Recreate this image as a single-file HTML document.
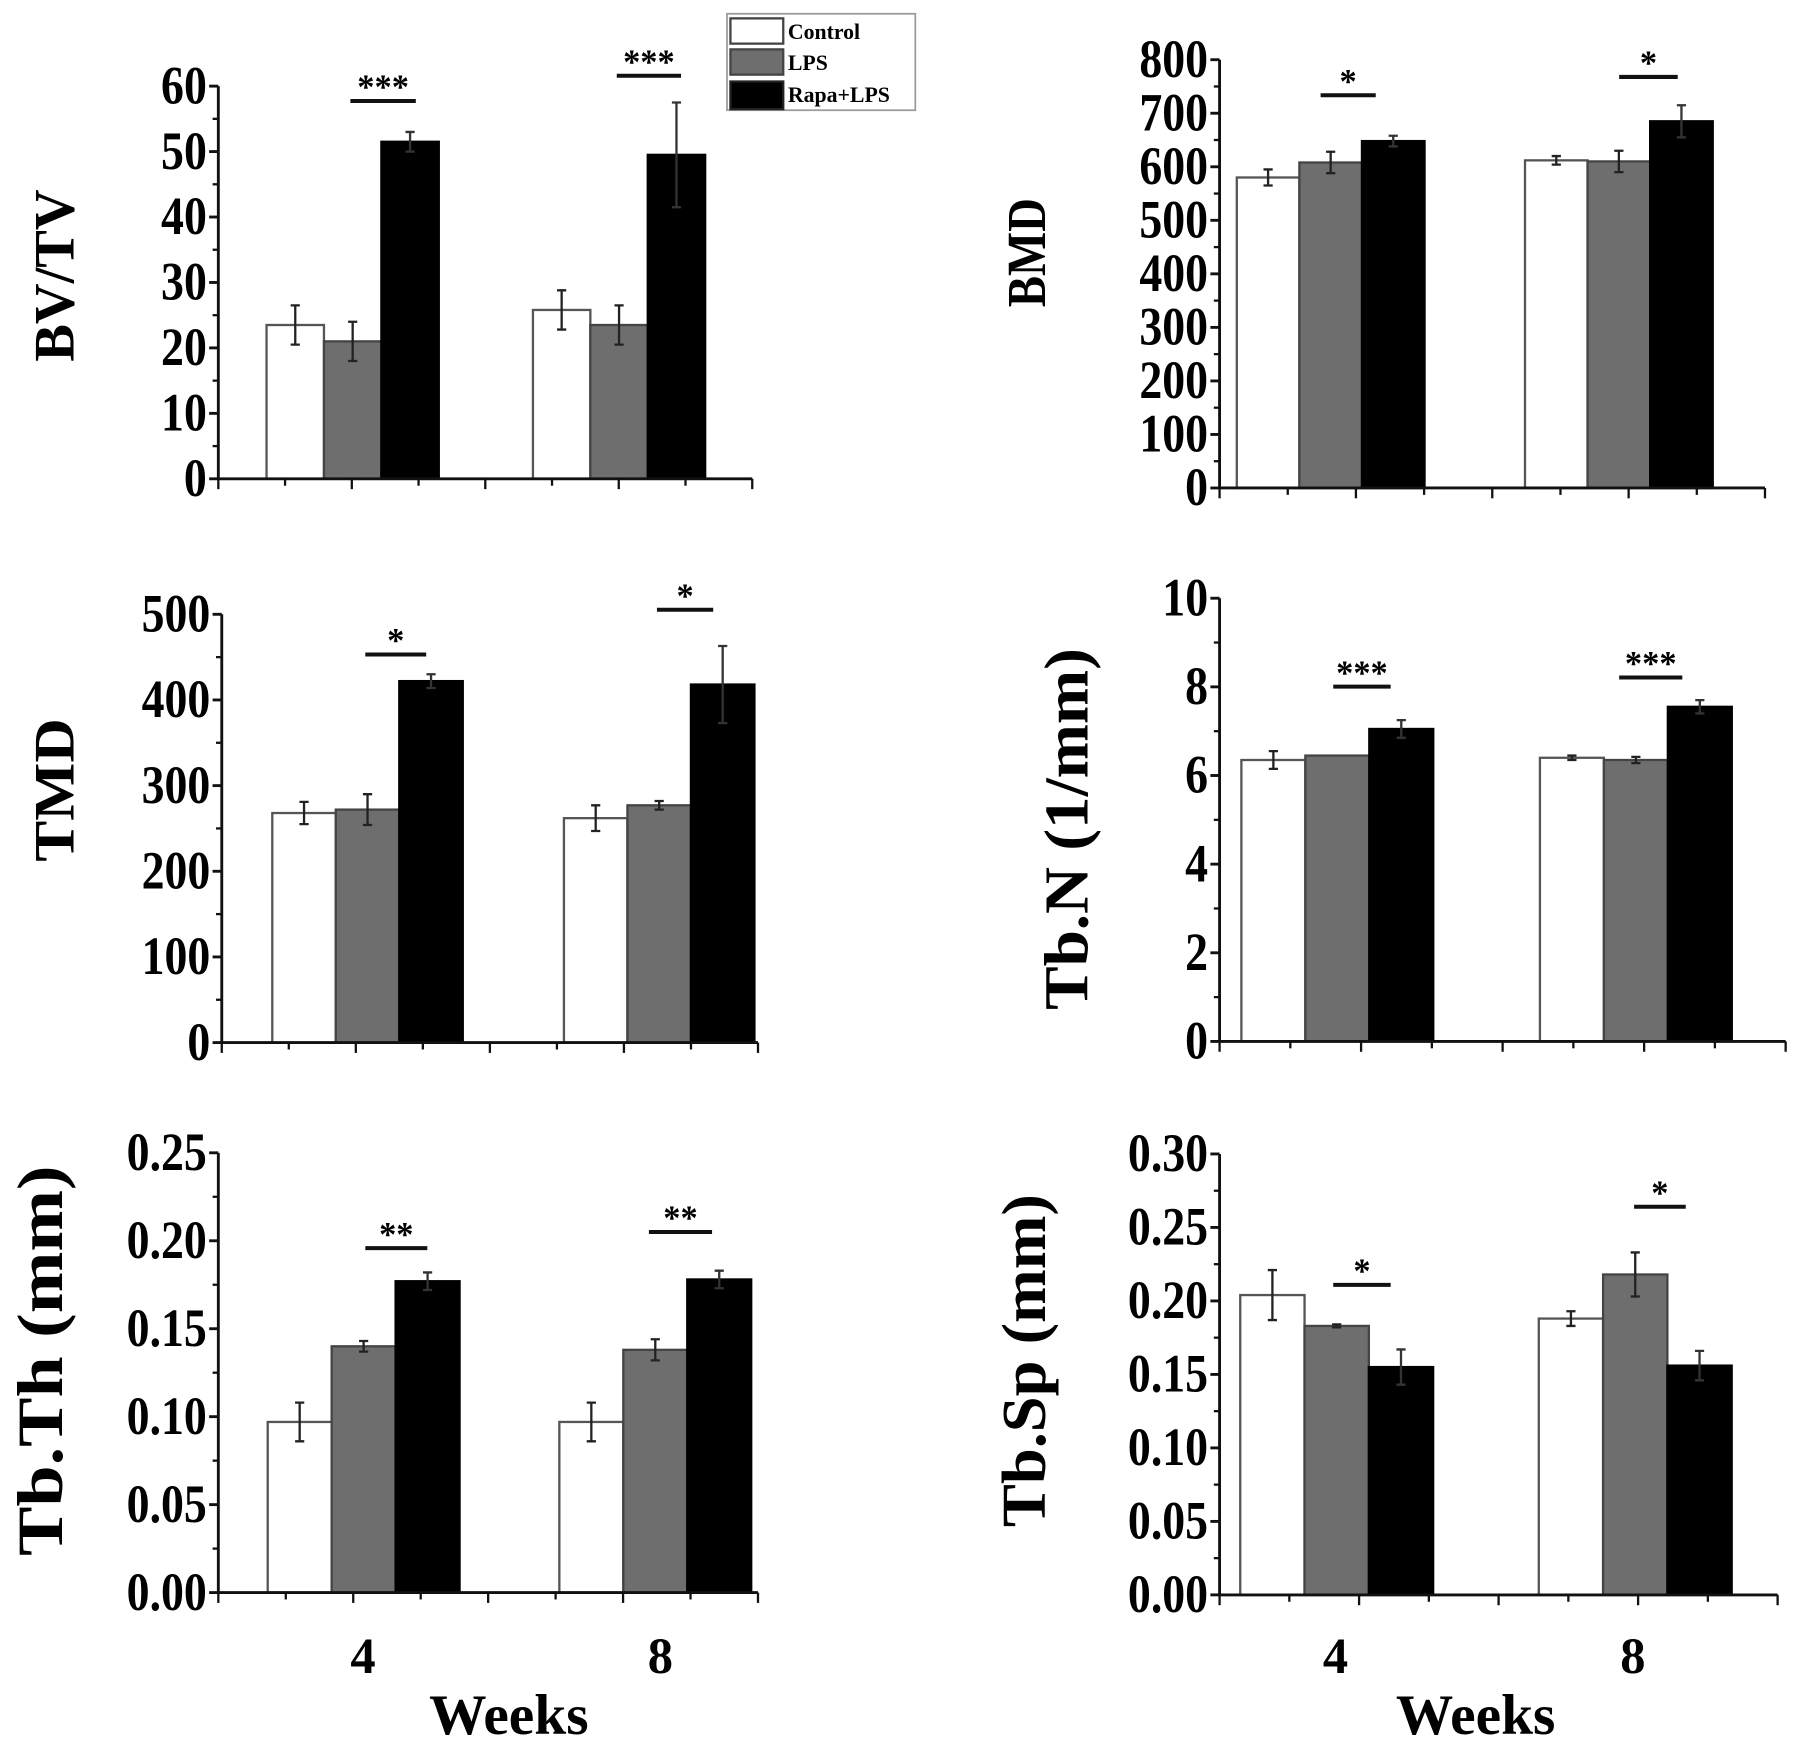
<!DOCTYPE html>
<html><head><meta charset="utf-8">
<style>
html,body{margin:0;padding:0;background:#fff;}
svg{display:block;font-family:"Liberation Serif",serif;font-weight:bold;}
</style></head>
<body>
<svg id="fig" width="1795" height="1743" viewBox="0 0 1563 1518" xmlns="http://www.w3.org/2000/svg">
<g>
<rect x="633" y="12" width="164" height="84" fill="#fff" stroke="#999" stroke-width="1.5"/>
<rect x="636" y="16" width="46" height="22" fill="#fff" stroke="#444" stroke-width="2"/>
<text x="686" y="34" font-size="19">Control</text>
<rect x="636" y="43" width="46" height="22" fill="#6e6e6e" stroke="#444" stroke-width="2"/>
<text x="686" y="61" font-size="19">LPS</text>
<rect x="636" y="71" width="46" height="24" fill="#000" stroke="#222" stroke-width="2"/>
<text x="686" y="89" font-size="19">Rapa+LPS</text>
</g>
</svg>
<script>
// Data
const groups = ["4", "8"];
const seriesNames = ["Control", "LPS", "Rapa+LPS"];
const bvtvValues = [[23.5, 21, 51.5], [25.8, 23.5, 49.5]];
const bvtvErrors = [[3, 3, 1.5], [3, 3, 8]];
const bvtvTicks = [0, 10, 20, 30, 40, 50, 60];
const bmdValues = [[580, 608, 648], [612, 610, 685]];
const bmdErrors = [[15, 20, 10], [8, 20, 30]];
const bmdTicks = [0, 100, 200, 300, 400, 500, 600, 700, 800];
const tmdValues = [[268, 272, 422], [262, 277, 418]];
const tmdErrors = [[13, 18, 8], [15, 5, 45]];
const tmdTicks = [0, 100, 200, 300, 400, 500];
const tbnValues = [[6.35, 6.45, 7.05], [6.4, 6.35, 7.55]];
const tbnErrors = [[0.2, 0, 0.2], [0.05, 0.07, 0.15]];
const tbnTicks = [0, 2, 4, 6, 8, 10];
const tbthValues = [[0.097, 0.14, 0.177], [0.097, 0.138, 0.178]];
const tbthErrors = [[0.011, 0.003, 0.005], [0.011, 0.006, 0.005]];
const tbthTicks = ["0.00", "0.05", "0.10", "0.15", "0.20", "0.25"];
const tbspValues = [[0.204, 0.183, 0.155], [0.188, 0.218, 0.156]];
const tbspErrors = [[0.017, 0.001, 0.012], [0.005, 0.015, 0.01]];
const tbspTicks = ["0.00", "0.05", "0.10", "0.15", "0.20", "0.25", "0.30"];
const sigLabels = [["***", "***"], ["*", "*"], ["*", "*"], ["***", "***"], ["**", "**"], ["*", "*"]];

const NS = "http://www.w3.org/2000/svg";
const svg = document.getElementById("fig");
const fills = ["#ffffff", "#6e6e6e", "#000000"];
const strokes = ["#555", "#444", "#000"];

function mk(tag, attrs, parent) {
  const e = document.createElementNS(NS, tag);
  for (const k in attrs) e.setAttribute(k, attrs[k]);
  parent.appendChild(e);
  return e;
}

const panels = [
  {id: "bvtv", title: "BV/TV", tl: 150, fs: 50, vals: bvtvValues, errs: bvtvErrors, ticks: bvtvTicks, ax: 190, x1: 655, yTop: 75, yBot: 417,
   g0: 232, bw: 50, gap: 232, titleX: 64, titleY: 240, sig: [[305, 362, 88], [537, 593, 66]], xlab: false},
  {id: "bmd", title: "BMD", tl: 95, fs: 48, vals: bmdValues, errs: bmdErrors, ticks: bmdTicks, ax: 1062, x1: 1537, yTop: 52, yBot: 425,
   g0: 1077, bw: 54.5, gap: 251, titleX: 910, titleY: 220, sig: [[1150, 1198, 83], [1410, 1461, 67]], xlab: false},
  {id: "tmd", title: "TMD", tl: 125, fs: 50, vals: tmdValues, errs: tmdErrors, ticks: tmdTicks, ax: 193, x1: 660, yTop: 535, yBot: 908,
   g0: 237, bw: 55.3, gap: 254, titleX: 64, titleY: 688, sig: [[318, 371, 570], [572, 621, 531]], xlab: false},
  {id: "tbn", title: "Tb.N (1/mm)", tl: 315, fs: 54, vals: tbnValues, errs: tbnErrors, ticks: tbnTicks, ax: 1062, x1: 1555, yTop: 521, yBot: 907,
   g0: 1081, bw: 55.7, gap: 260, titleX: 947, titleY: 722, sig: [[1161, 1211, 598], [1410, 1465, 590]], xlab: false},
  {id: "tbth", title: "Tb.Th (mm)", tl: 340, fs: 56, vals: tbthValues, errs: tbthErrors, ticks: tbthTicks, ax: 190, x1: 660, yTop: 1004, yBot: 1387,
   g0: 233, bw: 55.7, gap: 254, titleX: 54, titleY: 1185, sig: [[318, 372, 1087], [565, 620, 1073]], xlab: true, labX: [316, 575], weeksX: 443},
  {id: "tbsp", title: "Tb.Sp (mm)", tl: 290, fs: 54, vals: tbspValues, errs: tbspErrors, ticks: tbspTicks, ax: 1062, x1: 1548, yTop: 1005, yBot: 1389,
   g0: 1080, bw: 56, gap: 260, titleX: 910, titleY: 1185, sig: [[1161, 1211, 1119], [1423, 1468, 1051]], xlab: true, labX: [1163, 1422], weeksX: 1285}
];

panels.forEach((p, pi) => {
  const g = mk("g", {}, svg);
  
  
  const nums = p.ticks.map(Number);
  const vmax = nums[nums.length - 1];
  const y = v => p.yBot - (v / vmax) * (p.yBot - p.yTop);

  p.vals.forEach((grp, gi) => {
    grp.forEach((v, si) => {
      const x = p.g0 + gi * p.gap + si * p.bw;
      const r = mk("rect", {x: x, y: y(v), width: p.bw, height: p.yBot - y(v), fill: fills[si], stroke: strokes[si], "stroke-width": 2}, g);
      
      
      const e = p.errs[gi][si];
      if (e > 0) {
        const cx = x + p.bw / 2;
        const eb = mk("path", {d: `M${cx},${y(v - e)}V${y(v + e)}M${cx - 4},${y(v - e)}h8M${cx - 4},${y(v + e)}h8`, stroke: si === 2 ? "#333" : "#222", "stroke-width": 2, fill: "none"}, g);
        
        
      }
    });
  });

  const ya = mk("path", {d: `M${p.ax},${p.yTop}V${p.yBot}`, stroke: "#111", "stroke-width": 2.5, fill: "none"}, g);
  
  
  p.ticks.forEach((t, ti) => {
    const ty = y(Number(t));
    mk("path", {d: `M${p.ax - 8},${ty}H${p.ax}`, stroke: "#111", "stroke-width": 2.5}, g);
    if (ti < p.ticks.length - 1) {
      const my = y((Number(t) + Number(p.ticks[ti + 1])) / 2);
      mk("path", {d: `M${p.ax - 5},${my}H${p.ax}`, stroke: "#111", "stroke-width": 2}, g);
    }
    const lb = mk("text", {x: 0, y: 0, "font-size": 42, "text-anchor": "end", transform: `translate(${p.ax - 10},${ty + 15}) scale(0.95,1.12)`}, g);
    
    
    lb.textContent = String(t);
  });

  const xa = mk("path", {d: `M${p.ax},${p.yBot}H${p.x1}`, stroke: "#111", "stroke-width": 2.5, fill: "none"}, g);
  
  
  for (let k = 0; k <= 8; k++) {
    const tx = p.ax + k * (p.x1 - p.ax) / 8;
    mk("path", {d: `M${tx},${p.yBot}v${k % 2 ? 6 : 9}`, stroke: "#111", "stroke-width": 2}, g);
  }

  const tt = mk("text", {x: 0, y: 0, "font-size": p.fs, "text-anchor": "middle", textLength: p.tl, lengthAdjust: "spacingAndGlyphs", transform: `translate(${p.titleX},${p.titleY}) rotate(-90)`}, g);
  
  
  tt.textContent = p.title;

  p.sig.forEach((s, si) => {
    mk("path", {d: `M${s[0]},${s[2]}H${s[1]}`, stroke: "#111", "stroke-width": 3.5}, g);
    const st = mk("text", {x: (s[0] + s[1]) / 2, y: s[2] - 2, "font-size": 30, "text-anchor": "middle"}, g);
    
    
    st.textContent = sigLabels[pi][si];
  });

  if (p.xlab) {
    groups.forEach((gname, gi) => {
      const xl = mk("text", {x: p.labX[gi], y: 1457, "font-size": 44, "text-anchor": "middle"}, g);
      
      
      xl.textContent = gname;
    });
    const wt = mk("text", {x: p.weeksX, y: 1510, "font-size": 50, "text-anchor": "middle"}, g);
    
    
    wt.textContent = "Weeks";
  }
});
</script>
</body></html>
